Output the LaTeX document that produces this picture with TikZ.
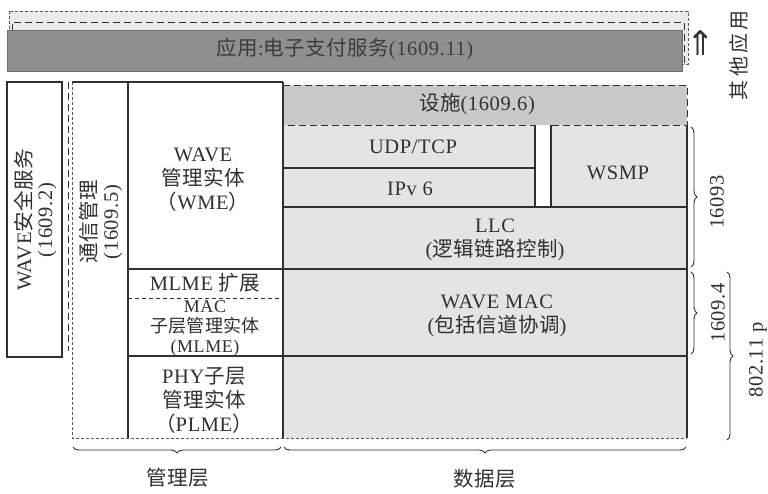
\documentclass[tikz,border=0pt]{standalone}
\usepackage{fontspec}
\setmainfont{Liberation Serif}[LetterSpace=3]
\newfontfamily\zhfont{Noto Sans CJK SC}[LetterSpace=2]
\newfontfamily\symfont{DejaVu Sans}
\newcommand\zh[1]{{\zhfont #1}}
\usetikzlibrary{decorations.pathreplacing}
\definecolor{barfill}{HTML}{8F8F8F}
\definecolor{bartext}{HTML}{3C3C3C}
\definecolor{topband}{HTML}{EBEBEB}
\definecolor{facfill}{HTML}{C9C9C9}
\definecolor{datafill}{HTML}{E4E4E4}
\definecolor{ink}{HTML}{303030}
\begin{document}
\begin{tikzpicture}[x=1pt,y=-1pt,
  solidline/.style={draw=ink,line width=1.1pt},
  dashline/.style={draw=ink,line width=1pt,dash pattern=on 7pt off 4pt},
  dotline/.style={draw=ink!80,line width=0.7pt,dash pattern=on 3pt off 2pt},
  lbl/.style={text=ink,font=\fontsize{20.5}{24}\selectfont,align=center,inner sep=0pt},
  tight/.style={lbl,font=\fontsize{18}{20}\selectfont},
  vlbl/.style={lbl,rotate=90,font=\fontsize{20.5}{21}\selectfont},
  bracestyle/.style={draw=ink,line width=0.9pt,decorate,decoration={brace,amplitude=6pt}}
]
\useasboundingbox (0,0) rectangle (768,493);

% ---- top application layer ----
\draw[dotline,fill=topband] (9,11) rectangle (688,64);
\draw[dashline] (12,64) -- (12,22) -- (684,22) -- (684,64);
\fill[barfill] (7,30) rectangle (682,71);
\draw[draw=ink!70,line width=0.6pt] (7,30) rectangle (682,71);
\node[lbl,text=bartext] (app) at (345,49) {\zh{应用}:\zh{电子支付服务}(1609.11)};
\node[lbl,font=\symfont\fontsize{34}{36}\selectfont] (uparrow) at (701,43) {⇑};
\node[lbl,rotate=90,font=\zhfont\fontsize{20}{20}\selectfont] (other) at (739,55) {其\,他\,应\,用};

% ---- security column ----
\draw[solidline] (7,82) rectangle (62,357);
\node[vlbl] (sec) at (35,220) {WAVE\zh{安全服务}\\(1609.2)};
\draw[dashline] (68,82) -- (68,351);

% ---- data layer background ----
\fill[datafill] (283,125) rectangle (687,438);
\draw[dashline,fill=facfill] (283,85) -- (687,85) -- (687,125) -- (283,125);
\node[lbl] (fac) at (477,104) {\zh{设施}(1609.6)};

% ---- management plane ----
\draw[dotline] (72,82) -- (72,438) -- (687,438);
\draw[solidline] (72,82) -- (283,82);
\draw[solidline] (128,82) -- (128,438);
\draw[solidline] (283,82) -- (283,438);
\draw[solidline] (687,125) -- (687,438);
\node[vlbl] (comm) at (101,222) {\zh{通信管理}\\(1609.5)};

\node[lbl] (wme) at (203,180) {WAVE\\\zh{管理实体}\\\zh{（}WME\zh{）}};
\draw[solidline] (128,269) -- (687,269);
\node[lbl] (mlmeext) at (205,283) {MLME \zh{扩展}};
\draw[dashline,dash pattern=on 4pt off 3pt] (128,298) -- (283,298);
\node[tight] (mlme) at (205,328) {MAC\\\zh{子层管理实体}\\(MLME)};
\draw[solidline] (128,356) -- (687,356);
\node[lbl] (plme) at (204,400) {PHY\zh{子层}\\\zh{管理实体}\\\zh{（}PLME\zh{）}};

% ---- data layer boxes ----
\fill[white] (535,125) rectangle (551,207);
\draw[solidline] (283,168) -- (535,168);
\draw[solidline] (535,125) -- (535,207);
\draw[solidline] (551,125) -- (551,207);
\draw[solidline] (283,207) -- (687,207);
\node[lbl] (udp) at (413,147) {UDP/TCP};
\node[lbl] (ipv6) at (410,189) {IPv 6};
\node[lbl] (wsmp) at (618,173) {WSMP};
\node[lbl] (llc) at (495,240) {LLC\\(\zh{逻辑链路控制})};
\node[lbl] (mac) at (497,316) {WAVE MAC\\(\zh{包括信道协调})};

% ---- braces ----
\coordinate (b3t) at (691,127);
\coordinate (b3b) at (691,267);
\coordinate (b4t) at (691,272);
\coordinate (b4b) at (691,354);
\coordinate (b8t) at (727,272);
\coordinate (b8b) at (727,440);
\draw[bracestyle] (b3t) -- (b3b);
\draw[bracestyle] (b4t) -- (b4b);
\draw[bracestyle] (b8t) -- (b8b);
\node[vlbl] (l3) at (717,202) {16093};
\node[vlbl] (l4) at (718,313) {1609.4};
\node[vlbl] (l8) at (758,360) {802.11 p};

\coordinate (bml) at (73,447);
\coordinate (bmr) at (281,447);
\coordinate (bdl) at (284,447);
\coordinate (bdr) at (686,447);
\draw[bracestyle] (bmr) -- (bml);
\draw[bracestyle] (bdr) -- (bdl);
\node[lbl] (mgmt) at (178,478) {\zh{管理层}};
\node[lbl] (data) at (485,479) {\zh{数据层}};
\end{tikzpicture}
\end{document}
